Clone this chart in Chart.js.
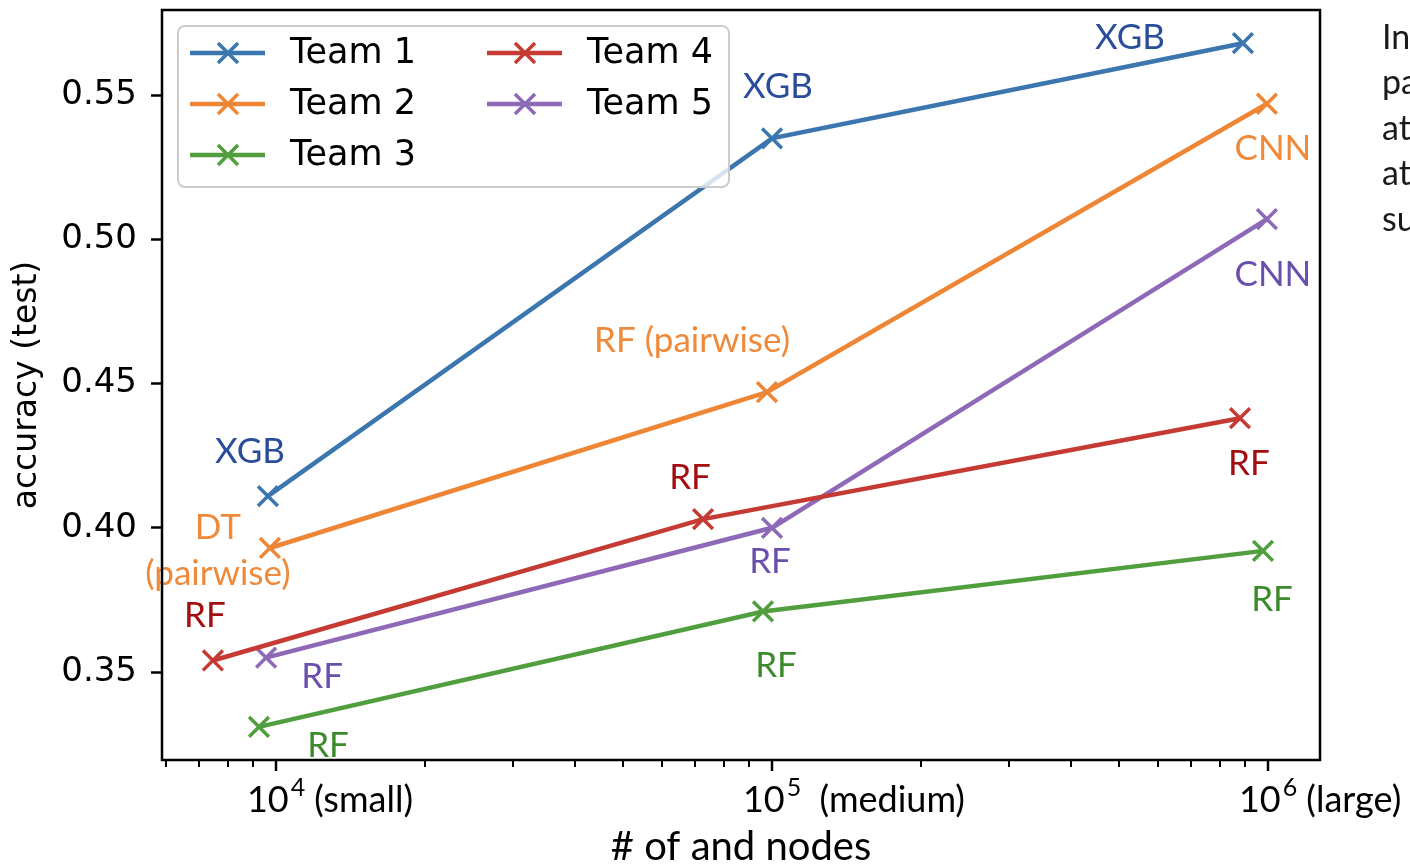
<!DOCTYPE html>
<html>
<head>
<meta charset="utf-8">
<script src="https://cdn.jsdelivr.net/npm/chart.js@4.4.0/dist/chart.umd.min.js"></script>
<style>
  body { margin: 0; background: #fff; }
  canvas { display: block; }
</style>
</head>
<body>
<canvas id="accChart" width="1410" height="867"></canvas>
<script>
// data
var teamNames = ['Team 1', 'Team 2', 'Team 3', 'Team 4', 'Team 5'];

var team1X = [9630, 100000, 890000];
var team1Y = [0.411, 0.535, 0.568];
var team1Notes = ['XGB', 'XGB', 'XGB'];

var team2X = [9720, 97700, 995000];
var team2Y = [0.393, 0.447, 0.547];
var team2Notes = ['DT\n(pairwise)', 'RF (pairwise)', 'CNN'];

var team3X = [9240, 95900, 977000];
var team3Y = [0.331, 0.371, 0.392];
var team3Notes = ['RF', 'RF', 'RF'];

var team4X = [7460, 72600, 878000];
var team4Y = [0.354, 0.403, 0.438];
var team4Notes = ['RF', 'RF', 'RF'];

var team5X = [9550, 100000, 995000];
var team5Y = [0.355, 0.400, 0.507];
var team5Notes = ['RF', 'RF', 'CNN'];

var xMajorTicks = [10000, 100000, 1000000];
var xMajorExp = ['4', '5', '6'];
var xMajorSuffix = [' (small)', '  (medium)', ' (large)'];
var yTickValues = [0.35, 0.40, 0.45, 0.50, 0.55];

var lineColors = ['#3b76af', '#ef8636', '#519e3e', '#c53a32', '#8d69b8'];
var noteColors = ['#2a4d9b', '#ef8a3a', '#3d8a2c', '#a30d10', '#6a4fae'];

function pts(xs, ys) {
  return xs.map(function (x, i) { return { x: x, y: ys[i] }; });
}

var allX = [team1X, team2X, team3X, team4X, team5X];
var allY = [team1Y, team2Y, team3Y, team4Y, team5Y];
var allNotes = [team1Notes, team2Notes, team3Notes, team4Notes, team5Notes];

var datasets = teamNames.map(function (name, i) {
  return {
    label: name,
    data: pts(allX[i], allY[i]),
    notes: allNotes[i],
    noteColor: noteColors[i],
    borderColor: lineColors[i],
    backgroundColor: lineColors[i],
    borderWidth: 4.5,
    pointStyle: 'crossRot',
    pointRadius: 14,
    pointHoverRadius: 14,
    pointBorderWidth: 3.5,
    tension: 0
  };
});

// pixel offsets of each note from its point
var noteOffsets = [
  [[-18, -44], [6, -52], [-113, -5]],
  [[-52, 3], [-75, -51], [6, 45]],
  [[69, 19], [13, 54], [9, 49]],
  [[-8, -45], [-13, -41], [9, 46]],
  [[56, 19], [-2, 34], [6, 56]]
];

var noteFont = '35px Lato';

var pointNotes = {
  id: 'pointNotes',
  afterDatasetsDraw(chart) {
    const ctx = chart.ctx;
    ctx.save();
    ctx.font = noteFont;
    ctx.textAlign = 'center';
    ctx.textBaseline = 'middle';
    chart.data.datasets.forEach(function (ds, i) {
      const meta = chart.getDatasetMeta(i);
      meta.data.forEach(function (el, j) {
        const lines = ds.notes[j].split('\n');
        const off = noteOffsets[i][j];
        const lh = 46;
        const y0 = el.y + off[1] - (lines.length - 1) * lh / 2;
        ctx.fillStyle = ds.noteColor;
        lines.forEach(function (t, k) {
          ctx.fillText(t, el.x + off[0], y0 + k * lh);
        });
      });
    });
    ctx.restore();
  }
};

var boxLegend = {
  id: 'boxLegend',
  afterDatasetsDraw(chart) {
    const ctx = chart.ctx;
    const area = chart.chartArea;
    const bx = area.left + 16, by = area.top + 16, bw = 551, bh = 161;
    ctx.save();
    ctx.beginPath();
    ctx.roundRect(bx, by, bw, bh, 7);
    ctx.fillStyle = 'rgba(255,255,255,0.8)';
    ctx.fill();
    ctx.lineWidth = 2;
    ctx.strokeStyle = '#cccccc';
    ctx.stroke();
    ctx.font = '35px "DejaVu Sans"';
    ctx.textBaseline = 'middle';
    ctx.textAlign = 'left';
    chart.data.datasets.forEach(function (ds, i) {
      const col = i < 3 ? 0 : 1;
      const row = i < 3 ? i : i - 3;
      const x = bx + 12 + col * 297;
      const y = by + 27 + row * 51;
      ctx.strokeStyle = ds.borderColor;
      ctx.lineWidth = 4.5;
      ctx.beginPath();
      ctx.moveTo(x, y);
      ctx.lineTo(x + 75, y);
      ctx.stroke();
      const mx = x + 38, r = 10;
      ctx.lineWidth = 3.5;
      ctx.beginPath();
      ctx.moveTo(mx - r, y - r); ctx.lineTo(mx + r, y + r);
      ctx.moveTo(mx - r, y + r); ctx.lineTo(mx + r, y - r);
      ctx.stroke();
      ctx.fillStyle = '#000';
      ctx.fillText(ds.label, x + 100, y + 1);
    });
    ctx.restore();
  }
};

var frameAndXAxis = {
  id: 'frameAndXAxis',
  afterDraw(chart) {
    const ctx = chart.ctx;
    const a = chart.chartArea;
    const xs = chart.scales.x;
    ctx.save();
    ctx.strokeStyle = '#000';
    ctx.lineWidth = 2.5;
    ctx.strokeRect(a.left, a.top, a.right - a.left, a.bottom - a.top);

    // minor + major ticks on the log axis
    for (let d = 1000; d <= 1000000; d *= 10) {
      for (let m = 1; m <= 9; m++) {
        const v = d * m;
        if (v < xs.min || v > xs.max) continue;
        const px = Math.round(xs.getPixelForValue(v));
        const len = m === 1 ? 11 : 7;
        ctx.lineWidth = m === 1 ? 2.5 : 2;
        ctx.beginPath();
        ctx.moveTo(px, a.bottom);
        ctx.lineTo(px, a.bottom + len);
        ctx.stroke();
      }
    }

    // decade labels with superscripts
    ctx.fillStyle = '#000';
    ctx.textBaseline = 'alphabetic';
    ctx.textAlign = 'left';
    xMajorTicks.forEach(function (v, i) {
      const px = xs.getPixelForValue(v);
      ctx.font = '36px Lato';
      const wBase = ctx.measureText('10').width;
      ctx.font = '25px Lato';
      const wExp = ctx.measureText(xMajorExp[i]).width;
      const start = px - (wBase + wExp + 2) / 2;
      const base = a.bottom + 52;
      ctx.font = '36px Lato';
      ctx.fillText('10', start, base);
      ctx.font = '25px Lato';
      ctx.fillText(xMajorExp[i], start + wBase + 2, base - 16);
      ctx.font = '36px Lato';
      ctx.fillText(xMajorSuffix[i], start + wBase + wExp + 2, base);
    });

    // x axis title
    ctx.font = '40px Lato';
    ctx.textAlign = 'center';
    ctx.fillText('# of and nodes', (a.left + a.right) / 2, a.bottom + 100);

    // text clipped at the right edge of the page
    ctx.font = '34px Lato';
    ctx.textAlign = 'left';
    ctx.textBaseline = 'middle';
    ctx.fillStyle = '#1a1a1a';
    ['In', 'pa', 'at', 'at', 'su'].forEach(function (t, k) {
      ctx.fillText(t, 1382, 38 + k * 45.5);
    });
    ctx.restore();
  }
};

var config = {
  type: 'line',
  data: { datasets: datasets },
  options: {
    responsive: false,
    animation: false,
    devicePixelRatio: 1,
    layout: { autoPadding: false, padding: { top: 10, right: 90, left: 0, bottom: 0 } },
    plugins: {
      legend: { display: false },
      tooltip: { enabled: false }
    },
    scales: {
      x: {
        type: 'logarithmic',
        min: 5890,
        max: 1273000,
        ticks: { display: false },
        grid: { display: false },
        border: { display: false },
        afterFit(scale) {
          scale.height = 107;
          scale.paddingLeft = 0;
          scale.paddingRight = 0;
        }
      },
      y: {
        type: 'linear',
        min: 0.3195,
        max: 0.5795,
        afterBuildTicks(scale) {
          scale.ticks = yTickValues.map(function (v) { return { value: v }; });
        },
        ticks: {
          color: '#000',
          font: { family: 'DejaVu Sans', size: 34 },
          padding: 14,
          callback: function (v) { return Number(v).toFixed(2); }
        },
        grid: {
          drawOnChartArea: false,
          drawTicks: true,
          tickLength: 11,
          tickWidth: 2.5,
          tickColor: '#000'
        },
        border: { display: false },
        title: {
          display: true,
          text: 'accuracy (test)',
          color: '#000',
          font: { family: 'DejaVu Sans', size: 33 },
          padding: { top: 8, bottom: 0 }
        },
        afterFit(scale) {
          scale.width = 162;
          scale.paddingTop = 0;
          scale.paddingBottom = 0;
        }
      }
    }
  },
  plugins: [pointNotes, boxLegend, frameAndXAxis]
};

var accChart = new Chart(document.getElementById('accChart'), config);
</script>
</body>
</html>
